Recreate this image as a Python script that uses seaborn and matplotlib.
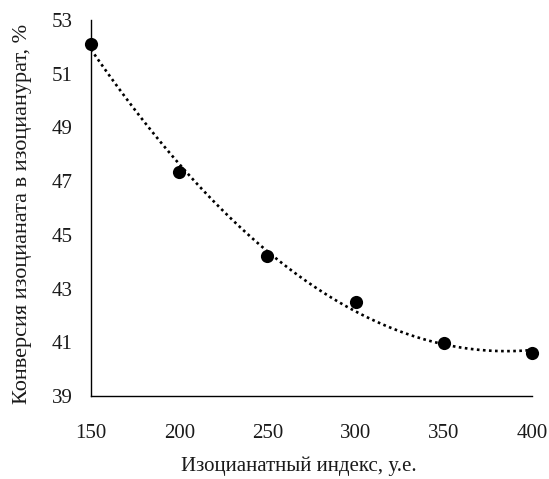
import numpy as np
import pandas as pd
import seaborn as sns
import matplotlib
matplotlib.use("Agg")
import matplotlib.pyplot as plt

iso_index = [150, 200, 250, 300, 350, 400]
conversion = [52.1, 47.35, 44.2, 42.5, 40.97, 40.6]
y_ticks = [39, 41, 43, 45, 47, 49, 51, 53]
x_ticks = [150, 200, 250, 300, 350, 400]

df = pd.DataFrame({"x": iso_index, "y": conversion})

sns.set_theme(style="white")
plt.rcParams['font.family'] = ['Liberation Serif', 'DejaVu Serif']

fig = plt.figure(figsize=(5.49, 4.79), dpi=100)
ax = fig.add_axes([91/549, 1-396/479, (532-91)/549, (396-20)/479])

sns.regplot(data=df, x="x", y="y", order=2, ci=None, ax=ax, truncate=True,
            scatter_kws=dict(s=90, color="black", alpha=1, zorder=3, linewidths=0),
            line_kws=dict(color="black", lw=1.9, linestyle=(0, (1, 1.3))))

ax.set_xlim(150, 400)
ax.set_ylim(39, 53)
ax.set_xticks(x_ticks)
ax.set_yticks(y_ticks)
ax.tick_params(axis="x", length=0, pad=20.5, labelsize=15, colors="#1a1a1a")
ax.tick_params(axis="y", length=0, pad=13, labelsize=15, colors="#1a1a1a")
for s in ["top", "right"]:
    ax.spines[s].set_visible(False)
for s in ["left", "bottom"]:
    ax.spines[s].set_color("black")
    ax.spines[s].set_linewidth(1.0)
ax.set_xlabel("Изоцианатный индекс, у.е.", fontsize=15, color="#1a1a1a", va="center")
ax.xaxis.set_label_coords(0.4717, -0.188)
ax.set_ylabel("Конверсия изоцианата в изоцианурат, %", fontsize=16, color="#1a1a1a", va="center")
ax.yaxis.set_label_coords(-0.155, 0.484)
for sp in ax.spines.values():
    sp.set_clip_on(False)
ax.collections[0].set_clip_on(False)

fig.savefig("out.png", dpi=100)
